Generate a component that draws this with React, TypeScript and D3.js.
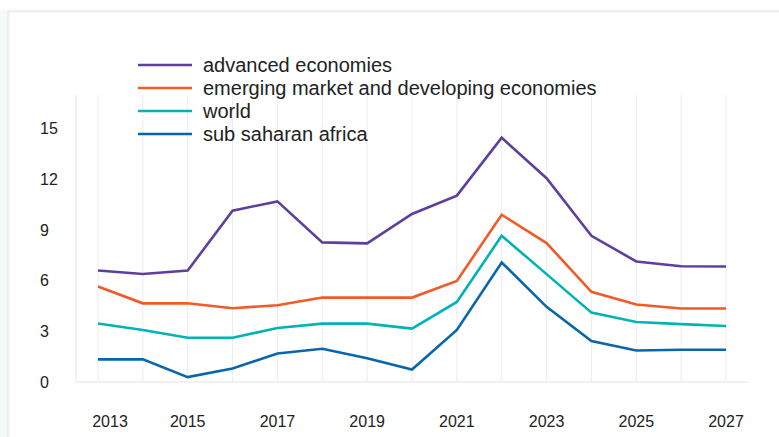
import React, { useEffect, useRef } from "react";
import * as d3 from "d3";

const years = [2013, 2014, 2015, 2016, 2017, 2018, 2019, 2020, 2021, 2022, 2023, 2024, 2025, 2026, 2027];
const advanced = [6.6, 6.4, 6.6, 10.15, 10.7, 8.27, 8.21, 9.95, 11.04, 14.47, 12.07, 8.66, 7.14, 6.86, 6.84];
const emerging = [5.66, 4.66, 4.66, 4.37, 4.55, 5.0, 5.0, 5.0, 5.99, 9.91, 8.23, 5.34, 4.59, 4.35, 4.35];
const world = [3.46, 3.08, 2.62, 2.62, 3.2, 3.46, 3.46, 3.16, 4.74, 8.66, 6.39, 4.11, 3.55, 3.43, 3.32];
const ssa = [1.34, 1.34, 0.29, 0.8, 1.69, 1.97, 1.41, 0.74, 3.08, 7.08, 4.45, 2.43, 1.87, 1.91, 1.91];

const seriesNames = [
  "advanced economies",
  "emerging market and developing economies",
  "world",
  "sub saharan africa",
];
const seriesColors = ["#5e3f9e", "#f15a29", "#00b3b5", "#0a66ab"];
const yTicks = [0, 3, 6, 9, 12, 15];
const xTicks = [2013, 2015, 2017, 2019, 2021, 2023, 2025, 2027];

const App: React.FC = () => {
  const svgRef = useRef<SVGSVGElement>(null);

  useEffect(() => {
    if (!svgRef.current) return;
    const svg = d3.select(svgRef.current);
    svg.selectAll("*").remove();

    const width = 779;
    const height = 437;
    const font = "'Liberation Sans', Arial, sans-serif";

    // background & frame
    svg.append("rect").attr("width", width).attr("height", height).attr("fill", "#ffffff");
    svg.append("rect").attr("x", 0).attr("y", 10).attr("width", 8).attr("height", height - 10).attr("fill", "#f4f9fa");
    svg.append("rect").attr("x", 7).attr("y", 10).attr("width", width - 7).attr("height", 2.5).attr("fill", "#efefef");
    svg.append("rect").attr("x", 7).attr("y", 10).attr("width", 2.5).attr("height", height - 10).attr("fill", "#efefef");

    const x = d3.scaleLinear().domain([2013, 2027]).range([98, 726]);
    const y = d3.scaleLinear().domain([0, 17]).range([382, 95]);
    const plotLeft = 76;
    const plotRight = 749;

    // vertical grid
    svg
      .append("g")
      .selectAll("line")
      .data(years)
      .enter()
      .append("line")
      .attr("x1", (d) => x(d))
      .attr("x2", (d) => x(d))
      .attr("y1", y(17))
      .attr("y2", y(0))
      .attr("stroke", "#ededed")
      .attr("stroke-width", 1);

    // axis lines
    svg.append("line").attr("x1", plotLeft).attr("x2", plotLeft).attr("y1", y(17)).attr("y2", y(0)).attr("stroke", "#ececec").attr("stroke-width", 1.5);
    svg.append("line").attr("x1", plotLeft).attr("x2", plotRight).attr("y1", y(0)).attr("y2", y(0)).attr("stroke", "#ececec").attr("stroke-width", 1.5);

    // y tick labels
    svg
      .append("g")
      .selectAll("text")
      .data(yTicks)
      .enter()
      .append("text")
      .attr("x", 40)
      .attr("y", (d) => y(d) + 5.5)
      .text((d) => String(d))
      .style("font-family", font)
      .style("font-size", "16px")
      .style("fill", "#222");

    // x tick labels
    svg
      .append("g")
      .selectAll("text")
      .data(xTicks)
      .enter()
      .append("text")
      .attr("x", (d, i) => x(d) + (i === 0 ? 12 : 0))
      .attr("y", 427)
      .attr("text-anchor", "middle")
      .text((d) => String(d))
      .style("font-family", font)
      .style("font-size", "16px")
      .style("fill", "#222");

    // lines
    const all = [advanced, emerging, world, ssa];
    const line = d3
      .line<number>()
      .x((_, i) => x(years[i]))
      .y((d) => y(d));
    // draw bottom series first
    [3, 2, 1, 0].forEach((k) => {
      svg
        .append("path")
        .datum(all[k])
        .attr("d", line)
        .attr("fill", "none")
        .attr("stroke", seriesColors[k])
        .attr("stroke-width", 2.6)
        .attr("stroke-linejoin", "miter");
    });

    // legend
    const legend = svg.append("g");
    seriesNames.forEach((name, i) => {
      const ly = 65 + i * 23;
      legend
        .append("line")
        .attr("x1", 138)
        .attr("x2", 192)
        .attr("y1", ly)
        .attr("y2", ly)
        .attr("stroke", seriesColors[i])
        .attr("stroke-width", 2.6);
      legend
        .append("text")
        .attr("x", 203)
        .attr("y", ly + 7)
        .text(name)
        .style("font-family", font)
        .style("font-size", "20px")
        .style("fill", "#222");
    });
  }, []);

  return (
    <svg
      ref={svgRef}
      width={779}
      height={437}
      style={{ position: "absolute", left: 0, top: 0, display: "block" }}
    />
  );
};

export default App;
